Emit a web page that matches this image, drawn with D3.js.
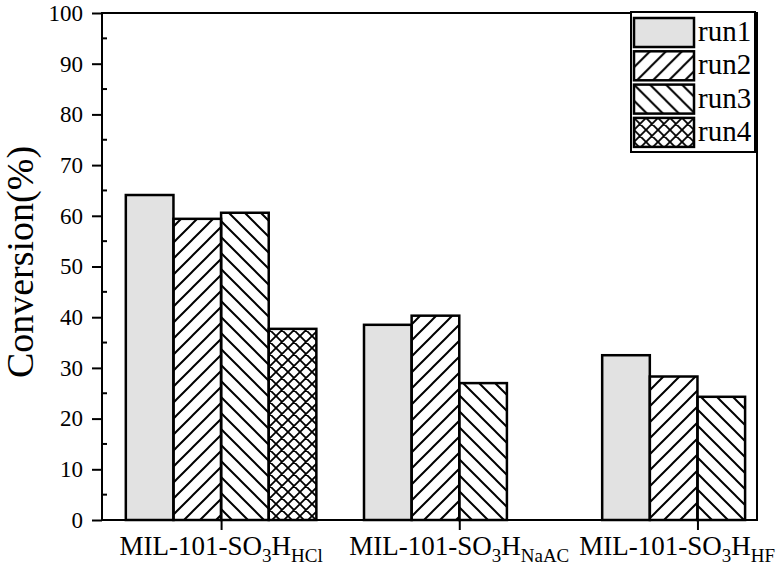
<!DOCTYPE html>
<html>
<head>
<meta charset="utf-8">
<script src="https://cdn.jsdelivr.net/npm/d3@7"></script>
<style>
  body { margin: 0; background: #fff; }
  svg { display: block; }
  text { font-family: "Liberation Serif", "Times New Roman", serif; fill: #000; }
</style>
</head>
<body>
<svg id="chart"></svg>
<script>
// data
var groups = ["HCl", "NaAC", "HF"];
var runs = ["run1", "run2", "run3", "run4"];
var run1 = [64.1, 38.5, 32.5];
var run2 = [59.4, 40.3, 28.3];
var run3 = [60.6, 27.0, 24.3];
var run4 = [37.7, null, null];
var yTicks = [0, 10, 20, 30, 40, 50, 60, 70, 80, 90, 100];
var yMinor = [5, 15, 25, 35, 45, 55, 65, 75, 85, 95];

var series = [run1, run2, run3, run4];
var fills = ["#e2e2e2", "url(#hatchR)", "url(#hatchL)", "url(#cross)"];

var W = 782, H = 569;
var pLeft = 102, pRight = 757, pTop = 13, pBottom = 520;

var svg = d3.select("#chart").attr("width", W).attr("height", H);

// patterns
var defs = svg.append("defs");
defs.append("pattern").attr("id", "hatchR").attr("patternUnits", "userSpaceOnUse")
    .attr("width", 16).attr("height", 16)
  .append("path").attr("d", "M-4,4L4,-4M0,16L16,0M12,20L20,12")
    .attr("stroke", "#000").attr("stroke-width", 2);
defs.append("pattern").attr("id", "hatchL").attr("patternUnits", "userSpaceOnUse")
    .attr("width", 16).attr("height", 16)
  .append("path").attr("d", "M-4,12L4,20M0,0L16,16M12,-4L20,4")
    .attr("stroke", "#000").attr("stroke-width", 2);
defs.append("pattern").attr("id", "cross").attr("patternUnits", "userSpaceOnUse")
    .attr("width", 12).attr("height", 12)
  .append("path").attr("d", "M-3,3L3,-3M0,12L12,0M9,15L15,9M-3,9L3,15M0,0L12,12M9,-3L15,3")
    .attr("stroke", "#000").attr("stroke-width", 1.8);

var x = d3.scaleLinear().domain([0.5, 3.25]).range([pLeft, pRight]);
var y = d3.scaleLinear().domain([0, 100]).range([pBottom, pTop]);
var barW = 0.2;

// bars
series.forEach(function(vals, si) {
  svg.append("g").selectAll("rect")
    .data(vals.map(function(v, gi) { return {v: v, g: gi + 1}; }).filter(function(d) { return d.v != null; }))
    .enter().append("rect")
    .attr("x", function(d) { return x(d.g + (si - 2) * barW); })
    .attr("width", function(d) { return x(d.g + barW) - x(d.g); })
    .attr("y", function(d) { return y(d.v); })
    .attr("height", function(d) { return y(0) - y(d.v); })
    .attr("fill", fills[si])
    .attr("stroke", "#000")
    .attr("stroke-width", 2.5);
});

// frame
svg.append("rect").attr("x", pLeft).attr("y", pTop)
  .attr("width", pRight - pLeft).attr("height", pBottom - pTop)
  .attr("fill", "none").attr("stroke", "#000").attr("stroke-width", 2);

// y axis
var yAxis = svg.append("g").attr("transform", "translate(" + pLeft + ",0)")
  .call(d3.axisLeft(y).tickValues(yTicks).tickSize(10).tickPadding(9));
yAxis.select(".domain").remove();
yAxis.selectAll("line").attr("stroke-width", 2);
yAxis.selectAll("text").attr("font-size", 23).style("font-family", "Liberation Serif, serif");

svg.append("g").selectAll("line").data(yMinor).enter().append("line")
  .attr("x1", pLeft).attr("x2", pLeft + 5)
  .attr("y1", function(d) { return y(d); }).attr("y2", function(d) { return y(d); })
  .attr("stroke", "#000").attr("stroke-width", 2);

// x axis
var xAxis = svg.append("g").attr("transform", "translate(0," + pBottom + ")")
  .call(d3.axisBottom(x).tickValues([1, 2, 3]).tickSize(10).tickFormat(""));
xAxis.select(".domain").remove();
xAxis.selectAll("line").attr("stroke-width", 2);

var lab = svg.append("g").selectAll("text").data(groups).enter().append("text")
  .attr("x", function(d, i) { return x(i + 1); })
  .attr("y", 555)
  .attr("text-anchor", "middle")
  .attr("font-size", 27);
lab.append("tspan").text("MIL-101-SO");
lab.append("tspan").attr("font-size", 19).attr("dy", 7).text("3");
lab.append("tspan").attr("dy", -7).text("H");
lab.append("tspan").attr("font-size", 19).attr("dy", 7).text(function(d) { return d; });
// keep labels inside the page
lab.each(function() {
  var b = this.getBBox();
  if (b.x + b.width > W - 7) {
    d3.select(this).attr("x", +d3.select(this).attr("x") - (b.x + b.width - (W - 7)));
  }
});

// y title
svg.append("text")
  .attr("transform", "translate(33,262) rotate(-90)")
  .attr("text-anchor", "middle")
  .attr("font-size", 38)
  .text("Conversion(%)");

// legend
var lg = svg.append("g");
lg.append("rect").attr("x", 631).attr("y", 12).attr("width", 124).attr("height", 140)
  .attr("fill", "#fff").attr("stroke", "#000").attr("stroke-width", 2);
var row = lg.selectAll("g.row").data(runs).enter().append("g")
  .attr("transform", function(d, i) { return "translate(634," + (18 + i * 33.3) + ")"; });
row.append("rect").attr("width", 60).attr("height", 29)
  .attr("fill", function(d, i) { return fills[i]; })
  .attr("stroke", "#000").attr("stroke-width", 2.5);
row.append("text").attr("x", 64).attr("y", 23).attr("font-size", 29)
  .text(function(d) { return d; });
</script>
</body>
</html>
